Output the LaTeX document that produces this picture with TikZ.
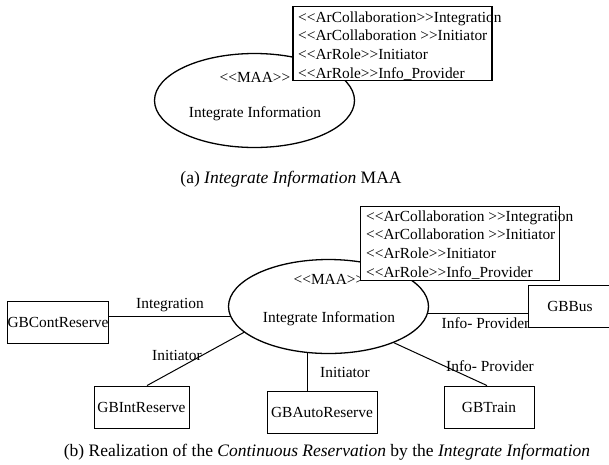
\documentclass[tikz,border=0pt]{standalone}
\usepackage{fontspec}
\setmainfont{Liberation Serif}
\usetikzlibrary{shapes.geometric}
% stereotype brackets, kept apart so they are not turned into guillemets
\newcommand\stOpen{<\kern0pt<}
\newcommand\stClose{>\kern0pt>}

\begin{document}
\begin{tikzpicture}[x=1pt,y=-1pt,
  every node/.style={font=\fontsize{15.4}{19}\selectfont, inner sep=0pt, text=black},
  maa/.style={ellipse, draw, line width=1.3pt, minimum width=200pt, minimum height=94pt},
  classbox/.style={draw, line width=0.9pt, fill=white, minimum height=42pt},
  rolebox/.style={draw, line width=1.1pt, fill=white, minimum width=199pt, minimum height=74pt},
  roleline/.style={anchor=base west},
  lbl/.style={anchor=base},
  link/.style={line width=1pt},
  captext/.style={anchor=base, font=\fontsize{17.5}{21}\selectfont}]
\useasboundingbox (0,0) rectangle (609,464);

% ---------- (a) the MAA on its own ----------
\node[maa] (ellA) at (254.5,100.5) {};
\node[lbl] (maaA) at (255,82) {\stOpen MAA\stClose};
\node[lbl] (nameA) at (255,117) {Integrate Information};
\node[rolebox] (boxA) at (392.5,43.5) {};
\foreach \t [count=\i] in {%
    {\stOpen ArCollaboration\stClose Integration},
    {\stOpen ArCollaboration \stClose Initiator},
    {\stOpen ArRole\stClose Initiator},
    {\stOpen ArRole\stClose Info\_Provider}}
  \node[roleline] (ra\i) at (298,{22+18.7*(\i-1)}) {\t};
\node[captext] (capA) at (291,183) {(a) \textit{Integrate Information} MAA};

% ---------- (b) realization ----------
\node[maa] (ellB) at (328.5,306.5) {};
\node[lbl] (maaB) at (329,284) {\stOpen MAA\stClose};
\node[lbl] (nameB) at (329,322) {Integrate Information};
\node[rolebox] (boxB) at (460,243.5) {};
\foreach \t [count=\i] in {%
    {\stOpen ArCollaboration \stClose Integration},
    {\stOpen ArCollaboration \stClose Initiator},
    {\stOpen ArRole\stClose Initiator},
    {\stOpen ArRole\stClose Info\_Provider}}
  \node[roleline] (rb\i) at (366,{221+18.7*(\i-1)}) {\t};

% participating classes
\node[classbox, minimum width=100pt] (cont) at (58,322.5) {GBContReserve};
\node[classbox, minimum width=84pt] (bus) at (570,306) {GBBus};
\node[classbox, minimum width=95pt] (int) at (141.5,407) {GBIntReserve};
\node[classbox, minimum width=110pt] (auto) at (322,412) {GBAutoReserve};
\node[classbox, minimum width=90pt] (train) at (489,407) {GBTrain};

% role connectors
\draw[link] (ellB.186.1) -- (ellB.186.1 -| cont.east);
\draw[link] (ellB.356.8) -- (ellB.356.8 -| bus.west);
\draw[link] (ellB.197.6) -- ([xshift=5.5pt]int.north);
\draw[link] (ellB.246.8) -- (ellB.246.8 |- auto.north);
\draw[link] (ellB.331) -- ([xshift=-2pt]train.north);

% role labels
\node[lbl] (lInt) at (170,308) {Integration};
\node[lbl] (lBus) at (485.5,328) {Info- Provider};
\node[lbl] (lIni1) at (177,360) {Initiator};
\node[lbl] (lIni2) at (345,377) {Initiator};
\node[lbl] (lTrain) at (490,371) {Info- Provider};

\node[captext] (capB) at (327,456)
  {(b) Realization of the \textit{Continuous Reservation} by the \textit{Integrate Information}};
\end{tikzpicture}
\end{document}
